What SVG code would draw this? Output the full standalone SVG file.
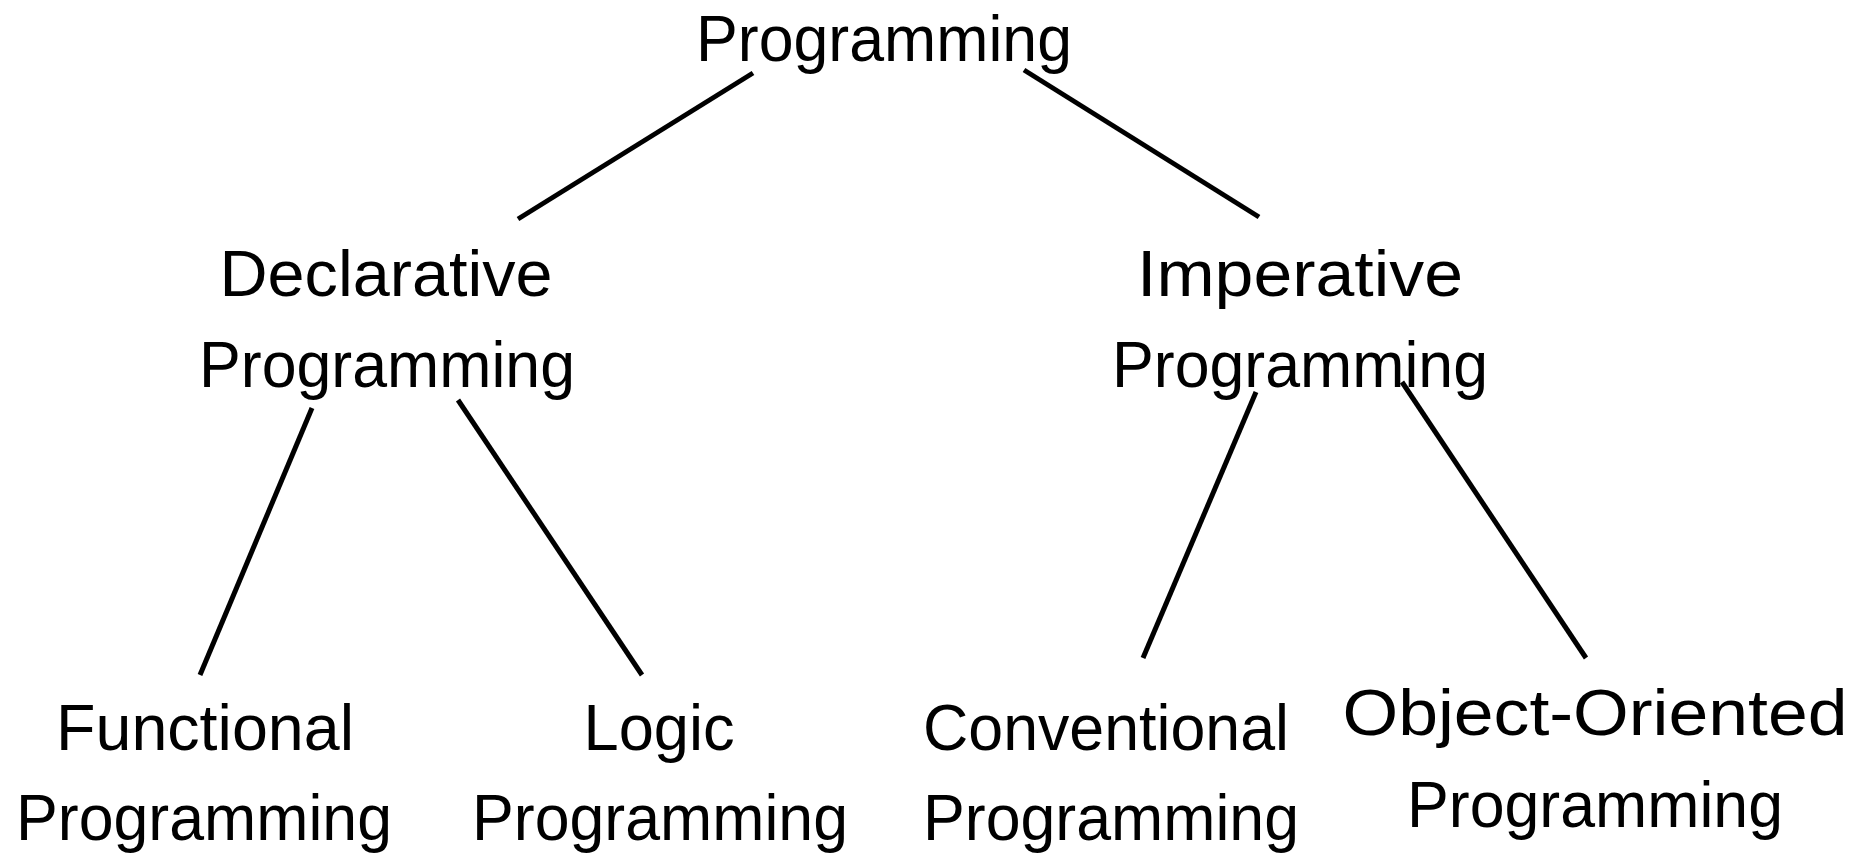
<svg xmlns="http://www.w3.org/2000/svg" width="1868" height="855" viewBox="0 0 1868 855">
<style>
.t{font-family:"Liberation Sans","DejaVu Sans",sans-serif;font-size:64px;fill:#000;text-anchor:middle}
.c line{stroke:#000;stroke-width:5;stroke-linecap:butt}
</style>
<rect width="1868" height="855" fill="#fff"/>
<g id="connectors" class="c">
<line x1="753" y1="73" x2="518" y2="219"/>
<line x1="1024" y1="70" x2="1259" y2="217"/>
<line x1="312" y1="408" x2="200" y2="675"/>
<line x1="458" y1="400" x2="642" y2="675"/>
<line x1="1256" y1="392" x2="1143" y2="658"/>
<line x1="1402" y1="382" x2="1586" y2="658"/>
</g>
<g id="programming"><text class="t" x="884" y="61" textLength="376" lengthAdjust="spacingAndGlyphs">Programming</text></g>
<g id="declarative">
<text class="t" x="386" y="296" textLength="333" lengthAdjust="spacingAndGlyphs">Declarative</text>
<text class="t" x="387" y="387" textLength="376" lengthAdjust="spacingAndGlyphs">Programming</text>
</g>
<g id="imperative">
<text class="t" x="1300" y="296" textLength="326" lengthAdjust="spacingAndGlyphs">Imperative</text>
<text class="t" x="1300" y="387" textLength="376" lengthAdjust="spacingAndGlyphs">Programming</text>
</g>
<g id="functional">
<text class="t" x="205" y="750" textLength="298" lengthAdjust="spacingAndGlyphs">Functional</text>
<text class="t" x="204" y="840" textLength="376" lengthAdjust="spacingAndGlyphs">Programming</text>
</g>
<g id="logic">
<text class="t" x="659" y="750" textLength="151" lengthAdjust="spacingAndGlyphs">Logic</text>
<text class="t" x="660" y="840" textLength="376" lengthAdjust="spacingAndGlyphs">Programming</text>
</g>
<g id="conventional">
<text class="t" x="1106" y="750" textLength="366" lengthAdjust="spacingAndGlyphs">Conventional</text>
<text class="t" x="1111" y="840" textLength="376" lengthAdjust="spacingAndGlyphs">Programming</text>
</g>
<g id="object-oriented">
<text class="t" x="1595" y="735" textLength="505" lengthAdjust="spacingAndGlyphs">Object-Oriented</text>
<text class="t" x="1595" y="827" textLength="376" lengthAdjust="spacingAndGlyphs">Programming</text>
</g>
</svg>
